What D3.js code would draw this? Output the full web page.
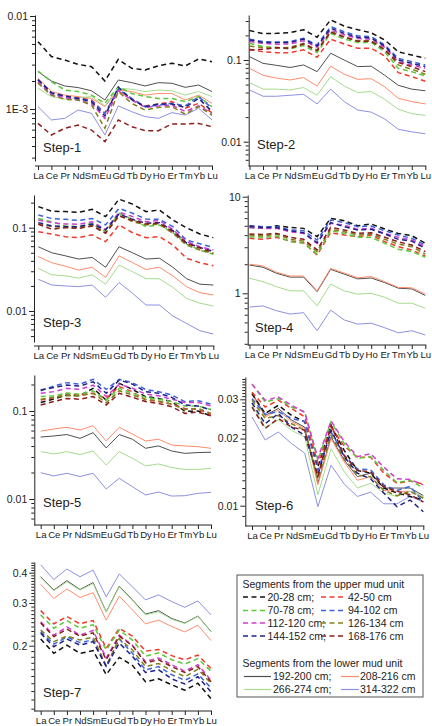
<!DOCTYPE html>
<html>
<head>
<meta charset="utf-8">
<script src="https://cdn.jsdelivr.net/npm/d3@7"></script>
<style>
  body { margin: 0; background: #fff; }
  text { font-family: "Liberation Sans", Arial, sans-serif; fill: #222; }
</style>
</head>
<body>
<script>

// REE on the x axis
const elements = ["La","Ce","Pr","Nd","Sm","Eu","Gd","Tb","Dy","Ho","Er","Tm","Yb","Lu"];

// segments: 8 from the upper mud unit (dashed), 4 from the lower (solid)
const segments = ["20-28 cm","42-50 cm","70-78 cm","94-102 cm","112-120 cm","126-134 cm","144-152 cm","168-176 cm",
                  "192-200 cm","208-216 cm","266-274 cm","314-322 cm"];

// values per step, one row per segment in the order above
const step1 = [
  [0.0053,0.00366,0.00336,0.00302,0.00285,0.0020,0.00342,0.00274,0.00263,0.00292,0.0031,0.0029,0.00345,0.00323],
  [0.00205,0.00147,0.00136,0.00132,0.00125,0.0009,0.0016,0.00127,0.00108,0.00113,0.0012,0.00102,0.00115,0.00091],
  [0.00256,0.00197,0.0016,0.00154,0.00141,0.00115,0.00174,0.00147,0.00136,0.0013,0.0013,0.0012,0.00136,0.00106],
  [0.00205,0.00145,0.00138,0.0013,0.00123,0.0009,0.00163,0.0013,0.00106,0.0011,0.00115,0.00108,0.00136,0.00102],
  [0.00197,0.00141,0.00133,0.00125,0.00115,0.00079,0.00157,0.00125,0.00104,0.00108,0.0011,0.00094,0.00108,0.0009],
  [0.0019,0.00141,0.00127,0.00125,0.0011,0.00062,0.00154,0.00115,0.000975,0.00104,0.00106,0.00088,0.00106,0.00086],
  [0.00208,0.0015,0.00138,0.0013,0.0012,0.00084,0.00171,0.00127,0.00106,0.00113,0.00113,0.00104,0.0013,0.00094],
  [0.0007,0.000525,0.00062,0.000673,0.000594,0.000446,0.000762,0.000646,0.000585,0.000585,0.00069,0.00069,0.0007,0.000646],
  [0.00252,0.002,0.00177,0.0017,0.00157,0.00125,0.00205,0.00192,0.00177,0.00192,0.00189,0.00171,0.00181,0.00154],
  [0.00214,0.00154,0.00141,0.00136,0.0013,0.00106,0.0016,0.00154,0.00141,0.00147,0.00147,0.00125,0.00141,0.00115],
  [0.00167,0.00136,0.00128,0.00132,0.00136,0.00108,0.00167,0.00163,0.00154,0.0016,0.00157,0.00141,0.00154,0.00136],
  [0.00106,0.000762,0.000794,0.000975,0.000898,0.000525,0.00108,0.000936,0.000828,0.000794,0.000914,0.000861,0.00102,0.000762]
];

const step2 = [
  [0.23,0.21,0.212,0.217,0.235,0.19,0.31,0.26,0.235,0.215,0.176,0.126,0.115,0.105],
  [0.135,0.126,0.123,0.123,0.133,0.108,0.18,0.157,0.139,0.139,0.112,0.07,0.0625,0.055],
  [0.16,0.146,0.142,0.137,0.15,0.123,0.212,0.18,0.164,0.164,0.126,0.079,0.072,0.064],
  [0.18,0.168,0.165,0.168,0.184,0.153,0.256,0.222,0.197,0.193,0.153,0.105,0.0955,0.087],
  [0.168,0.16,0.156,0.157,0.172,0.143,0.233,0.204,0.183,0.18,0.143,0.0955,0.087,0.079],
  [0.148,0.142,0.139,0.143,0.16,0.133,0.222,0.193,0.172,0.172,0.135,0.087,0.077,0.067],
  [0.176,0.164,0.164,0.164,0.18,0.148,0.245,0.212,0.19,0.186,0.148,0.1,0.091,0.083],
  [0.133,0.135,0.142,0.139,0.157,0.13,0.22,0.19,0.17,0.17,0.133,0.093,0.083,0.072],
  [0.11,0.091,0.086,0.081,0.087,0.072,0.121,0.1,0.083,0.084,0.065,0.049,0.044,0.042],
  [0.079,0.065,0.06,0.057,0.061,0.048,0.084,0.067,0.058,0.059,0.047,0.034,0.031,0.029],
  [0.053,0.044,0.044,0.043,0.046,0.037,0.0625,0.048,0.04,0.041,0.033,0.025,0.022,0.021],
  [0.043,0.036,0.036,0.037,0.038,0.029,0.044,0.031,0.0244,0.023,0.019,0.0142,0.0132,0.0125]
];

const step3 = [
  [0.179,0.158,0.156,0.153,0.166,0.136,0.22,0.192,0.156,0.163,0.124,0.1,0.084,0.076],
  [0.0895,0.084,0.078,0.076,0.082,0.068,0.108,0.087,0.076,0.078,0.062,0.043,0.038,0.035],
  [0.129,0.118,0.105,0.103,0.113,0.0895,0.149,0.126,0.103,0.108,0.087,0.064,0.054,0.048],
  [0.142,0.129,0.126,0.122,0.129,0.108,0.171,0.149,0.127,0.126,0.103,0.071,0.064,0.058],
  [0.124,0.115,0.111,0.11,0.118,0.095,0.153,0.136,0.118,0.122,0.095,0.068,0.059,0.054],
  [0.111,0.103,0.101,0.1,0.108,0.087,0.142,0.118,0.108,0.11,0.0855,0.062,0.054,0.049],
  [0.115,0.105,0.103,0.103,0.111,0.094,0.146,0.126,0.113,0.115,0.092,0.066,0.058,0.052],
  [0.11,0.096,0.1,0.098,0.105,0.0855,0.138,0.122,0.111,0.113,0.0895,0.065,0.057,0.05],
  [0.059,0.05,0.046,0.042,0.044,0.0335,0.059,0.05,0.042,0.043,0.0335,0.0245,0.021,0.0205],
  [0.045,0.038,0.0345,0.031,0.0335,0.0253,0.046,0.038,0.0315,0.0335,0.0263,0.0196,0.0166,0.0156],
  [0.0325,0.0272,0.0265,0.0248,0.0272,0.021,0.0355,0.0296,0.0245,0.0243,0.0192,0.0142,0.0124,0.0115],
  [0.024,0.0205,0.02,0.0196,0.0205,0.0146,0.022,0.0163,0.0118,0.0118,0.0087,0.0071,0.0058,0.0053]
];

const step4 = [
  [4.81,4.7,5.0,4.81,4.7,3.86,5.97,5.65,5.0,5.22,4.63,4.17,3.95,3.29],
  [3.71,3.62,3.8,3.47,3.34,2.49,4.24,4.01,3.86,4.01,3.42,3.04,2.81,2.43],
  [3.86,3.8,3.92,3.42,3.29,2.55,4.45,4.17,3.8,3.8,3.29,2.86,2.7,2.36],
  [5.0,4.89,4.89,4.52,4.45,3.56,5.74,5.4,4.89,4.96,4.45,4.01,3.71,3.16],
  [4.89,4.7,4.7,4.34,4.17,3.29,5.3,5.09,4.59,4.7,4.17,3.8,3.56,3.04],
  [4.01,3.92,4.11,3.62,3.47,2.7,4.59,4.34,4.01,4.11,3.62,3.23,3.04,2.55],
  [4.96,4.81,4.81,4.45,4.24,3.34,5.4,4.89,4.52,4.59,4.11,3.62,3.47,2.92],
  [4.11,4.07,4.17,3.8,3.62,2.81,4.81,4.52,4.17,4.24,3.8,3.42,3.16,2.7],
  [1.96,1.86,1.61,1.47,1.47,1.04,1.77,1.58,1.41,1.44,1.29,1.13,1.11,0.95],
  [2.0,1.92,1.65,1.51,1.51,1.06,1.81,1.62,1.45,1.49,1.32,1.15,1.14,0.98],
  [1.43,1.32,1.17,1.06,1.06,0.74,1.25,1.06,0.98,1.0,0.91,0.79,0.79,0.7],
  [0.72,0.74,0.66,0.61,0.63,0.41,0.67,0.53,0.48,0.49,0.44,0.39,0.41,0.37]
];

const step5 = [
  [0.125,0.137,0.152,0.149,0.181,0.133,0.206,0.176,0.146,0.139,0.128,0.099,0.1,0.088],
  [0.133,0.141,0.159,0.152,0.159,0.139,0.189,0.166,0.133,0.128,0.12,0.107,0.104,0.092],
  [0.146,0.149,0.159,0.155,0.17,0.133,0.181,0.159,0.143,0.136,0.128,0.114,0.114,0.104],
  [0.17,0.192,0.21,0.202,0.229,0.176,0.229,0.21,0.176,0.166,0.152,0.128,0.131,0.12],
  [0.159,0.166,0.181,0.176,0.197,0.146,0.202,0.181,0.156,0.149,0.136,0.125,0.125,0.114],
  [0.136,0.143,0.149,0.149,0.159,0.124,0.17,0.152,0.136,0.13,0.119,0.104,0.107,0.094],
  [0.173,0.185,0.197,0.192,0.215,0.159,0.225,0.202,0.166,0.159,0.143,0.117,0.114,0.103],
  [0.117,0.128,0.139,0.136,0.146,0.117,0.159,0.143,0.128,0.122,0.112,0.094,0.097,0.088],
  [0.0506,0.052,0.054,0.0489,0.0567,0.038,0.054,0.0478,0.0377,0.0401,0.0351,0.033,0.0337,0.034],
  [0.059,0.0625,0.0653,0.0608,0.068,0.0456,0.0653,0.0547,0.0456,0.0478,0.041,0.0401,0.0393,0.0377],
  [0.0345,0.0325,0.0345,0.032,0.0351,0.0243,0.0345,0.029,0.0238,0.025,0.0228,0.0217,0.0217,0.0223],
  [0.0199,0.0183,0.0196,0.018,0.0196,0.013,0.0172,0.0138,0.0111,0.012,0.0108,0.0109,0.0116,0.0119]
];

const step6 = [
  [0.0318,0.0259,0.0282,0.0254,0.0238,0.0149,0.0229,0.0177,0.0144,0.014,0.012,0.0114,0.011,0.0106],
  [0.0323,0.0277,0.0297,0.0273,0.025,0.0155,0.0225,0.0185,0.0165,0.0165,0.014,0.0126,0.0129,0.0125],
  [0.0352,0.0292,0.0302,0.0277,0.0264,0.016,0.0238,0.019,0.0163,0.0166,0.0144,0.0127,0.013,0.012],
  [0.0302,0.0257,0.0264,0.0246,0.0238,0.0144,0.0214,0.0168,0.0146,0.0145,0.0124,0.0117,0.0122,0.0104],
  [0.035,0.0297,0.0307,0.0282,0.0262,0.0163,0.024,0.0194,0.0166,0.0171,0.0149,0.0132,0.0131,0.0124],
  [0.0297,0.0246,0.0254,0.0233,0.0218,0.0132,0.0207,0.0163,0.0137,0.0135,0.0117,0.0111,0.0116,0.0108],
  [0.0289,0.0233,0.0259,0.0225,0.0207,0.0137,0.0218,0.0166,0.014,0.0132,0.0114,0.0099,0.0106,0.0094],
  [0.0277,0.0222,0.0246,0.0225,0.0218,0.0135,0.0229,0.0168,0.0144,0.0142,0.0122,0.0116,0.0112,0.0104],
  [0.032,0.0254,0.0273,0.0242,0.0225,0.0126,0.0203,0.016,0.0135,0.014,0.012,0.012,0.012,0.0111],
  [0.0316,0.025,0.0268,0.0238,0.0222,0.0124,0.02,0.0157,0.013,0.0135,0.0117,0.0116,0.0116,0.011],
  [0.0283,0.0225,0.0242,0.0218,0.0203,0.0112,0.018,0.0142,0.012,0.0126,0.0114,0.011,0.0116,0.011],
  [0.025,0.0197,0.0214,0.019,0.0172,0.0099,0.0152,0.0125,0.011,0.0115,0.0102,0.0102,0.011,0.0104]
];

const step7 = [
  [0.213,0.186,0.201,0.186,0.191,0.152,0.179,0.166,0.142,0.146,0.138,0.131,0.14,0.121],
  [0.279,0.246,0.264,0.246,0.254,0.195,0.236,0.219,0.19,0.193,0.182,0.175,0.183,0.161],
  [0.268,0.236,0.254,0.236,0.244,0.192,0.232,0.211,0.181,0.187,0.175,0.168,0.177,0.157],
  [0.228,0.203,0.217,0.206,0.211,0.165,0.213,0.186,0.159,0.164,0.152,0.144,0.153,0.134],
  [0.251,0.221,0.239,0.221,0.231,0.178,0.221,0.201,0.172,0.178,0.167,0.157,0.167,0.144],
  [0.232,0.208,0.219,0.211,0.217,0.165,0.214,0.192,0.164,0.169,0.158,0.149,0.16,0.14],
  [0.225,0.198,0.213,0.201,0.208,0.164,0.205,0.181,0.155,0.159,0.146,0.139,0.149,0.129],
  [0.248,0.218,0.234,0.219,0.226,0.175,0.219,0.2,0.17,0.175,0.164,0.155,0.164,0.142],
  [0.385,0.339,0.371,0.341,0.364,0.276,0.352,0.309,0.27,0.279,0.259,0.248,0.265,0.229],
  [0.358,0.313,0.343,0.316,0.331,0.255,0.32,0.281,0.246,0.255,0.24,0.228,0.243,0.21],
  [0.383,0.337,0.367,0.339,0.361,0.275,0.35,0.307,0.268,0.276,0.257,0.247,0.264,0.228],
  [0.431,0.375,0.414,0.385,0.41,0.318,0.395,0.35,0.309,0.324,0.304,0.288,0.306,0.268]
];

// labelled y ticks per step
const step1Ticks = [0.01, 0.001],  step1Labels = ["0.01", "1E-3"];
const step2Ticks = [0.1, 0.01],    step2Labels = ["0.1", "0.01"];
const step3Ticks = [0.1, 0.01],    step3Labels = ["0.1", "0.01"];
const step4Ticks = [10, 1],        step4Labels = ["10", "1"];
const step5Ticks = [0.1, 0.01],    step5Labels = ["0.1", "0.01"];
const step6Ticks = [0.03, 0.02, 0.01], step6Labels = ["0.03", "0.02", "0.01"];
const step7Ticks = [0.4, 0.3, 0.2],    step7Labels = ["0.4", "0.3", "0.2"];

// styles
const colors = ["#111111","#f23a2c","#5cc83a","#3d63d8","#d03fd0","#80801e","#20208a","#8b1d1d",
                "#4f4f4f","#ff8c6c","#a6dc8e","#8d91e0"];
const dashed = d => d < 8;

var width = 432;
var height = 726;

var svg = d3.select("body").append("svg")
      .attr("width", width)
      .attr("height", height);

// layout of each panel: y ticks reference (two values -> two pixel rows), axis extent, x extent
const panels = [
  {name:"Step-1", data:step1, ticks:step1Ticks, labels:step1Labels, ref:[0.01,16,0.001,109], top:15, bot:161, ax:35, x0:38, x1:212, xAxisY:166, minor:"log", lx:43, ly:152},
  {name:"Step-2", data:step2, ticks:step2Ticks, labels:step2Labels, ref:[0.1,60,0.01,141.7], top:15, bot:166, ax:248.7, x0:249.5, x1:425.3, xAxisY:166, minor:"log", lx:257, ly:149},
  {name:"Step-3", data:step3, ticks:step3Ticks, labels:step3Labels, ref:[0.1,227.7,0.01,311], top:195, bot:342, ax:34, x0:38.3, x1:213.3, xAxisY:346, minor:"log", lx:43, ly:327},
  {name:"Step-4", data:step4, ticks:step4Ticks, labels:step4Labels, ref:[10,196.7,1,293.3], top:195, bot:345, ax:247.7, x0:249.5, x1:425.3, xAxisY:345, minor:"log", lx:255, ly:332},
  {name:"Step-5", data:step5, ticks:step5Ticks, labels:step5Labels, ref:[0.1,411,0.01,499], top:375, bot:525, ax:34.3, x0:40.7, x1:211, xAxisY:525, minor:"log", lx:43, ly:507},
  {name:"Step-6", data:step6, ticks:step6Ticks, labels:step6Labels, ref:[0.03,399.3,0.01,505.7], top:377, bot:526, ax:245.3, x0:252, x1:423.3, xAxisY:526, minor:0.001, lx:255, ly:510},
  {name:"Step-7", data:step7, ticks:step7Ticks, labels:step7Labels, ref:[0.4,572.7,0.2,645.7], top:562, bot:711, ax:34.3, x0:40.7, x1:211, xAxisY:711, minor:0.01, lx:43, ly:697}
];

panels.forEach(function(p) {

  // **** scales *****************
  const ref = d3.scaleLog().domain([p.ref[0], p.ref[2]]).range([p.ref[1], p.ref[3]]);
  const y = d3.scaleLog()
      .domain([ref.invert(p.bot), ref.invert(p.top)])
      .range([p.bot, p.top]);
  const x = d3.scalePoint().domain(elements).range([p.x0, p.x1]);

  const g = svg.append("g");

  // minor ticks
  var minor;
  const [lo, hi] = y.domain();
  if (p.minor === "log") {
    minor = [];
    for (let e = Math.floor(Math.log10(lo)); e <= Math.ceil(Math.log10(hi)); e++) {
      for (let k = 2; k <= 9; k++) {
        const v = k * Math.pow(10, e);
        if (v >= lo && v <= hi) minor.push(v);
      }
    }
  } else {
    minor = d3.range(Math.ceil(lo / p.minor), Math.floor(hi / p.minor) + 1)
      .map(k => +(k * p.minor).toFixed(4))
      .filter(v => p.ticks.every(t => Math.abs(t - v) > 1e-9));
  }

  g.append("g")
      .attr("transform", "translate(" + p.ax + ",0)")
      .call(d3.axisLeft(y).tickValues(minor).tickSize(3).tickSizeOuter(0).tickFormat(""))
      .call(s => s.select(".domain").attr("stroke", "#222"))
      .call(s => s.selectAll(".tick line").attr("stroke", "#222"));

  g.append("g")
      .attr("transform", "translate(" + p.ax + ",0)")
      .call(d3.axisLeft(y).tickValues(p.ticks).tickSize(5).tickPadding(2)
            .tickFormat((d, i) => p.labels[i]))
      .call(s => s.select(".domain").remove())
      .call(s => s.selectAll(".tick line").attr("stroke", "#222"))
      .call(s => s.selectAll("text").attr("font-size", 10.5).style("font-family", "Liberation Sans, Arial, sans-serif").attr("fill", "#222"));

  // **** x axis *****************
  const xa = g.append("g")
      .attr("transform", "translate(0," + p.xAxisY + ")")
      .call(d3.axisBottom(x).tickSize(4).tickSizeOuter(0).tickPadding(2))
      .call(s => s.select(".domain").remove())
      .call(s => s.selectAll(".tick line").attr("stroke", "#222"))
      .call(s => s.selectAll("text").attr("font-size", 9.6).style("font-family", "Liberation Sans, Arial, sans-serif").attr("fill", "#222"));

  xa.append("line")
      .attr("x1", p.ax).attr("x2", p.x1 + 1)
      .attr("stroke", "#222");

  // **** lines *****************
  const line = d3.line()
      .x((d, i) => x(elements[i]))
      .y(d => y(d));

  const order = [8, 9, 10, 11, 0, 1, 2, 3, 4, 5, 6, 7];
  g.selectAll(".series")
    .data(order)
    .join("path")
      .attr("class", "series")
      .attr("fill", "none")
      .attr("stroke", i => colors[i])
      .attr("stroke-width", i => dashed(i) ? 1.5 : 1)
      .attr("stroke-dasharray", i => dashed(i) ? "5,3.5" : null)
      .attr("d", i => line(p.data[i]));

  g.append("text")
      .attr("x", p.lx)
      .attr("y", p.ly)
      .attr("font-size", 13)
      .text(p.name);
});

// **** legend *****************
const leg = svg.append("g");
leg.append("rect")
    .attr("x", 237).attr("y", 575)
    .attr("width", 186).attr("height", 122)
    .attr("fill", "#fff").attr("stroke", "#555");

leg.append("text").attr("x", 242.5).attr("y", 588).attr("font-size", 10.5).text("Segments from the upper mud unit");
leg.append("text").attr("x", 242.5).attr("y", 667).attr("font-size", 10.5).text("Segments from the lower mud unit");

const legRows = [
  {a:0, b:1, y:597}, {a:2, b:3, y:610.5}, {a:4, b:5, y:623}, {a:6, b:7, y:636},
  {a:8, b:9, y:676.5}, {a:10, b:11, y:689.5}
];

legRows.forEach(function(r) {
  const up = r.a < 8;
  const cols = up ? [[243, 266, 267.5], [321, 346, 348]] : [[244, 271, 273], [341, 359, 360]];
  [r.a, r.b].forEach(function(k, j) {
    const c = cols[j];
    leg.append("line")
        .attr("x1", c[0]).attr("x2", c[1])
        .attr("y1", r.y).attr("y2", r.y)
        .attr("stroke", colors[k])
        .attr("stroke-width", up ? 1.5 : 1.2)
        .attr("stroke-dasharray", up ? "5,3.5" : null);
    leg.append("text")
        .attr("x", c[2]).attr("y", r.y + 3.8)
        .attr("font-size", 10.5)
        .text(segments[k] + (j === 0 ? ";" : ""));
  });
});

</script>
</body>
</html>
